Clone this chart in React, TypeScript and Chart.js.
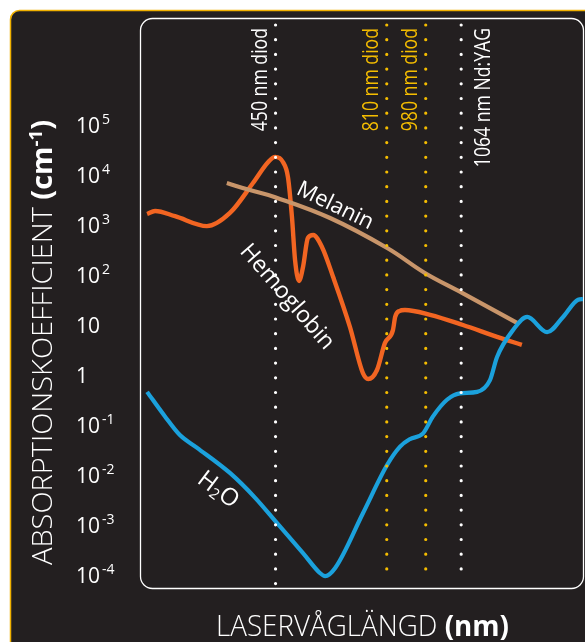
import React, { useEffect, useRef } from "react";
import { Chart, registerables } from "chart.js";
Chart.register(...registerables);

const FONT = "'Open Sans', 'DejaVu Sans', sans-serif";

// x = schematic wavelength position across the plot (0 = left edge, 100 = right edge)
const hemoglobinX = [1.6, 3.4, 7.9, 15.1, 20.3, 25.5, 28.9, 30.5, 32.3, 33.4, 34.3, 35.0, 35.9, 36.8, 37.9, 39.1, 41.1, 43.6, 47.4, 50.3, 51.5, 53.5, 55.3, 57.1, 57.6, 58.5, 59.8, 65.5, 72.9, 80.6, 86.2];
const hemoglobinY = [1660, 1900, 1500, 950, 1740, 6900, 18000, 23000, 18000, 9100, 1450, 200, 76, 145, 550, 630, 360, 91, 9.1, 1.1, 0.83, 1.26, 4.4, 7.9, 14.5, 19, 20, 16, 10, 5.8, 4.0];

const melaninX = [19.6, 24.8, 30.5, 42.9, 55.8, 64.3, 72.7, 85.1];
const melaninY = [6900, 5000, 3600, 1380, 347, 110, 44, 11];

const waterX = [1.6, 5.6, 9.0, 12.9, 20.3, 26.0, 30.9, 36.8, 40.6, 41.8, 44.1, 50.3, 55.8, 58.7, 60.9, 63.9, 66.1, 69.3, 72.2, 76.1, 79.0, 80.6, 84.2, 87.4, 91.9, 95.5, 98.9, 100];
const waterY = [0.46, 0.15, 0.063, 0.035, 0.011, 0.0035, 0.0011, 0.000275, 0.00011, 0.000095, 0.00014, 0.0017, 0.016, 0.037, 0.052, 0.068, 0.147, 0.32, 0.43, 0.46, 0.79, 2.3, 7.9, 14.5, 7.2, 14.5, 32, 33];

const laserNames = ["450 nm diod", "810 nm diod", "980 nm diod", "1064 nm Nd:YAG"];
const laserX = [30.6, 55.7, 64.5, 72.5];
const laserTop = [1e7, 1e7, 1e7, 1e7];
const laserBottom = [6.3e-5, 1.26e-4, 1.26e-4, 1.26e-4];

const yTickExponents = [5, 4, 3, 2, 1, 0, -1, -2, -3, -4];

const Y_MIN = 5.5e-5;
const Y_MAX = 1.38e7;

const WHITE = "#ffffff";
const YELLOW = "#f5bd00";
const laserColors = [WHITE, YELLOW, YELLOW, WHITE];
const laserLabelSide = [-1, -1, -1, 1];

type Run = { text: string; font: string; dy?: number; dx?: number };

function drawRuns(
  ctx: CanvasRenderingContext2D,
  runs: Run[],
  x: number,
  y: number,
  angle: number,
  align: "left" | "right" | "center",
  color: string,
  opts: { target?: number; squeeze?: number; baseline?: CanvasTextBaseline } = {}
) {
  ctx.save();
  ctx.fillStyle = color;
  ctx.textBaseline = opts.baseline || "alphabetic";
  ctx.textAlign = "left";
  let total = 0;
  const widths = runs.map((r) => {
    ctx.font = r.font;
    const w = ctx.measureText(r.text).width + (r.dx || 0);
    total += w;
    return w;
  });
  const sx = opts.target ? opts.target / total : opts.squeeze || 1;
  ctx.translate(x, y);
  ctx.rotate(angle);
  ctx.scale(sx, 1);
  let cx = align === "left" ? 0 : align === "right" ? -total : -total / 2;
  runs.forEach((r, i) => {
    ctx.font = r.font;
    ctx.fillText(r.text, cx + (r.dx || 0), r.dy || 0);
    cx += widths[i];
  });
  ctx.restore();
}

function roundRect(ctx: CanvasRenderingContext2D, x: number, y: number, w: number, h: number, r: number) {
  ctx.beginPath();
  ctx.moveTo(x + r, y);
  ctx.lineTo(x + w - r, y);
  ctx.arcTo(x + w, y, x + w, y + r, r);
  ctx.lineTo(x + w, y + h - r);
  ctx.arcTo(x + w, y + h, x + w - r, y + h, r);
  ctx.lineTo(x + r, y + h);
  ctx.arcTo(x, y + h, x, y + h - r, r);
  ctx.lineTo(x, y + r);
  ctx.arcTo(x, y, x + r, y, r);
  ctx.closePath();
}

const decorPlugin = {
  id: "decor",
  beforeDraw(chart: any) {
    const ctx: CanvasRenderingContext2D = chart.ctx;
    const a = chart.chartArea;
    ctx.save();
    ctx.fillStyle = "#ffffff";
    ctx.fillRect(0, 0, chart.width, chart.height);
    roundRect(ctx, 10.5, 10.5, 700, 700, 9);
    ctx.fillStyle = "#231f20";
    ctx.fill();
    ctx.strokeStyle = "#f0b000";
    ctx.lineWidth = 1.5;
    ctx.stroke();
    roundRect(ctx, a.left + 0.5, a.top + 0.5, a.right - a.left, a.bottom - a.top, 12);
    ctx.strokeStyle = "#ffffff";
    ctx.lineWidth = 1.3;
    ctx.stroke();
    ctx.restore();
  },
  afterDraw(chart: any) {
    const ctx: CanvasRenderingContext2D = chart.ctx;
    const xs = chart.scales.x;
    const ys = chart.scales.y;

    // y tick labels
    yTickExponents.forEach((e) => {
      const py = ys.getPixelForValue(Math.pow(10, e));
      const runs: Run[] =
        e === 0
          ? [{ text: "1", font: `21px ${FONT}` }]
          : e === 1
          ? [{ text: "10", font: `21px ${FONT}` }]
          : [
              { text: "10", font: `21px ${FONT}` },
              { text: e < 0 ? `-${-e}` : `${e}`, font: `14px ${FONT}`, dy: -9, dx: 2 },
            ];
      drawRuns(ctx, runs, 76, py + 8, 0, "left", WHITE);
    });

    // y axis title
    drawRuns(
      ctx,
      [
        { text: "ABSORPTIONSKOEFFICIENT ", font: `300 28px ${FONT}` },
        { text: "(cm", font: `700 28px ${FONT}` },
        { text: "-1", font: `700 18px ${FONT}`, dy: -10 },
        { text: ")", font: `700 28px ${FONT}` },
      ],
      52,
      565,
      -Math.PI / 2,
      "left",
      WHITE,
      { target: 445 }
    );

    // x axis title
    drawRuns(
      ctx,
      [
        { text: "LASERVÅGLÄNGD ", font: `300 29px ${FONT}` },
        { text: "(nm)", font: `700 29px ${FONT}` },
      ],
      216,
      636,
      0,
      "left",
      WHITE,
      { target: 293 }
    );

    // laser labels
    laserNames.forEach((name, i) => {
      const px = xs.getPixelForValue(laserX[i]);
      const bx = laserLabelSide[i] < 0 ? px - 9 : px + 29;
      drawRuns(ctx, [{ text: name, font: `21px ${FONT}` }], bx, 28, -Math.PI / 2, "right", laserColors[i], {
        squeeze: 0.84,
      });
    });

    // curve labels
    drawRuns(ctx, [{ text: "Melanin", font: `22px ${FONT}` }], 335, 206, (26 * Math.PI) / 180, "center", WHITE, {
      baseline: "middle",
    });
    drawRuns(ctx, [{ text: "Hemoglobin", font: `23px ${FONT}` }], 287, 297, (49 * Math.PI) / 180, "center", WHITE, {
      baseline: "middle",
    });
    drawRuns(
      ctx,
      [
        { text: "H", font: `24px ${FONT}` },
        { text: "2", font: `15px ${FONT}`, dy: 6 },
        { text: "O", font: `24px ${FONT}` },
      ],
      218,
      490,
      (37 * Math.PI) / 180,
      "center",
      WHITE,
      { baseline: "middle" }
    );
  },
};

export default function App() {
  const ref = useRef<HTMLCanvasElement | null>(null);
  useEffect(() => {
    if (!ref.current) return;
    const toPts = (xa: number[], ya: number[]) => xa.map((x, i) => ({ x, y: ya[i] }));
    const laserSets = laserNames.map((name, i) => ({
      label: name,
      data: [
        { x: laserX[i], y: laserTop[i] },
        { x: laserX[i], y: laserBottom[i] },
      ],
      borderColor: laserColors[i],
      borderWidth: 3.2,
      borderDash: [0, 14.7],
      borderCapStyle: "round" as const,
      pointRadius: 0,
      order: 0,
    }));
    const chart = new Chart(ref.current, {
      type: "line",
      data: {
        datasets: [
          ...laserSets,
          {
            label: "H2O",
            data: toPts(waterX, waterY),
            borderColor: "#1ba1dc",
            borderWidth: 4.2,
            pointRadius: 0,
            cubicInterpolationMode: "monotone",
            order: 1,
          },
          {
            label: "Melanin",
            data: toPts(melaninX, melaninY),
            borderColor: "#c8956a",
            borderWidth: 4.2,
            pointRadius: 0,
            tension: 0.4,
            order: 2,
          },
          {
            label: "Hemoglobin",
            data: toPts(hemoglobinX, hemoglobinY),
            borderColor: "#f26522",
            borderWidth: 4.4,
            pointRadius: 0,
            cubicInterpolationMode: "monotone",
            order: 3,
          },
        ] as any,
      },
      options: {
        responsive: false,
        animation: false,
        devicePixelRatio: 1,
        events: [],
        layout: { padding: { left: 140, right: 2, top: 18, bottom: 54 } },
        plugins: { legend: { display: false }, tooltip: { enabled: false } },
        scales: {
          x: { type: "linear", min: 0, max: 100, display: false },
          y: { type: "logarithmic", min: Y_MIN, max: Y_MAX, display: false },
        },
      },
      plugins: [decorPlugin],
    });
    return () => chart.destroy();
  }, []);
  return (
    <div style={{ position: "absolute", left: 0, top: 0, width: 585, height: 642 }}>
      <canvas ref={ref} width={585} height={642} style={{ display: "block" }} />
    </div>
  );
}
